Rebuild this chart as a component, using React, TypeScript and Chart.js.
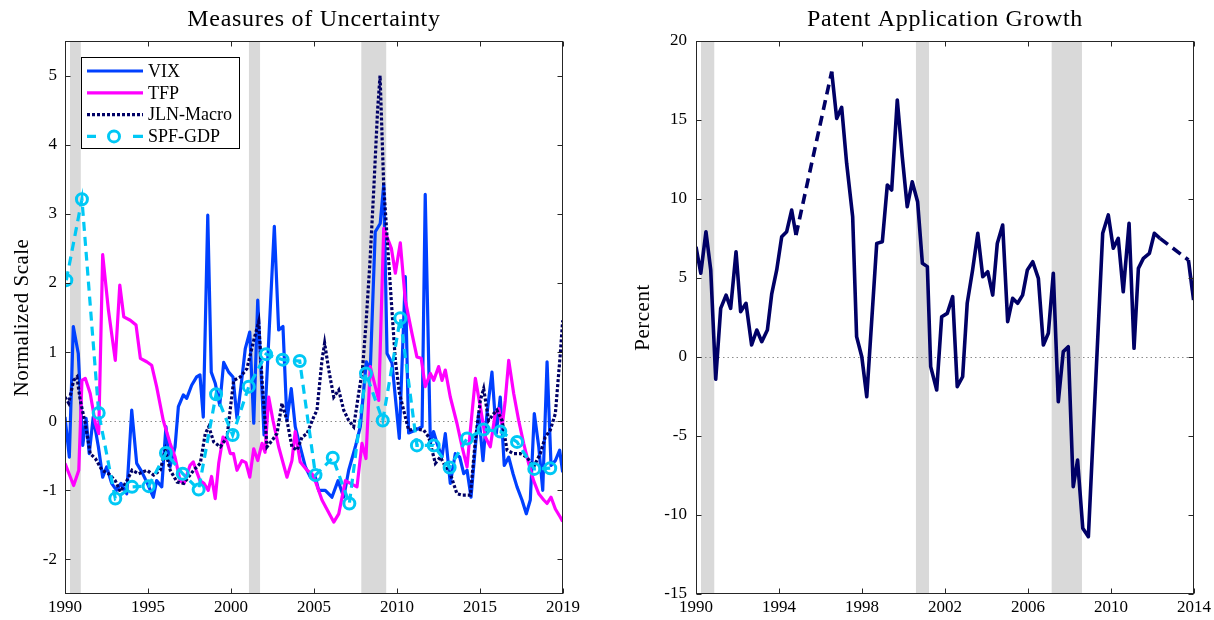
import React, { useEffect, useRef } from 'react';
import { Chart, registerables } from 'chart.js';

Chart.register(...registerables);

const SERIF = '"Liberation Serif", "Times New Roman", Times, serif';
const AXIS_COLOR = '#262626';

// ---------- Measures of Uncertainty (normalized scale) ----------
const vixDates = [
  1990.0, 1990.26, 1990.5, 1990.8, 1991.07, 1991.27, 1991.46, 1991.7, 1992.01, 1992.27,
  1992.51, 1992.81, 1993.11, 1993.37, 1993.72, 1994.02, 1994.32, 1994.62, 1994.96, 1995.32,
  1995.52, 1995.83, 1996.08, 1996.33, 1996.63, 1996.83, 1997.13, 1997.33, 1997.63, 1997.93,
  1998.13, 1998.33, 1998.6, 1998.81, 1999.05, 1999.32, 1999.56, 1999.86, 2000.12, 2000.36,
  2000.6, 2000.86, 2001.13, 2001.37, 2001.61, 2001.99, 2002.61, 2002.87, 2003.13, 2003.37,
  2003.63, 2003.87, 2004.17, 2004.48, 2004.78, 2005.08, 2005.28, 2005.68, 2006.08, 2006.45,
  2006.79, 2007.09, 2007.49, 2007.79, 2008.15, 2008.39, 2008.69, 2008.99, 2009.2, 2009.4,
  2009.7, 2010.14, 2010.5, 2010.7, 2011.1, 2011.51, 2011.7, 2012.01, 2012.2, 2012.41,
  2012.71, 2012.91, 2013.21, 2013.51, 2013.78, 2014.02, 2014.22, 2014.46, 2014.72, 2014.92,
  2015.18, 2015.42, 2015.72, 2015.98, 2016.22, 2016.46, 2016.73, 2016.99, 2017.23, 2017.53,
  2017.79, 2018.03, 2018.27, 2018.54, 2018.78, 2019.04, 2019.28, 2019.54, 2019.8, 2019.98,
];
const vixValues = [
  0.06, -0.52, 1.37, 0.98, -0.35, 0.04, -0.47, 0.06, -0.37, -0.81,
  -0.66, -0.9, -1.0, -0.9, -1.05, 0.16, -0.61, -0.73, -0.9, -1.1,
  -0.86, -0.95, -0.08, -0.66, -0.37, 0.21, 0.38, 0.33, 0.52, 0.64,
  0.67, 0.06, 2.98, 0.71, 0.55, 0.23, 0.85, 0.71, 0.64, 0.04,
  0.5, 1.05, 1.29, -0.03, 1.75, -0.2, 2.82, 1.32, 1.37, 0.01,
  0.47, -0.08, -0.37, -0.66, -0.81, -0.81, -1.0, -1.0, -1.1, -0.86,
  -1.1, -0.71, -0.37, -0.08, 0.86, 0.74, 2.74, 2.86, 3.42, 0.98,
  0.84, -0.25, 2.09, -0.17, -0.13, -0.08, 3.28, -0.32, -0.15, -0.32,
  -0.52, -0.18, -0.9, -0.47, -0.52, -0.76, -0.71, -1.1, -0.37, 0.11,
  -0.57, 0.11, 0.71, -0.18, 0.35, -0.64, -0.52, -0.76, -0.95, -1.14,
  -1.34, -1.14, 0.11, -0.37, -1.0, 0.86, -0.64, -0.57, -0.42, -0.74,
];

const tfpDates = [
  1990.0, 1990.52, 1990.83, 1991.02, 1991.22, 1991.52, 1991.83, 1992.03, 1992.27, 1992.62,
  1993.03, 1993.3, 1993.54, 1993.93, 1994.28, 1994.54, 1994.92, 1995.22, 1995.52, 1995.92,
  1996.33, 1996.63, 1996.93, 1997.17, 1997.53, 1997.73, 1997.93, 1998.13, 1998.37, 1998.63,
  1998.83, 1999.05, 1999.26, 1999.52, 1999.76, 1999.96, 2000.15, 2000.36, 2000.66, 2000.9,
  2001.13, 2001.37, 2001.61, 2001.87, 2002.05, 2002.27, 2002.53, 2002.87, 2003.37, 2003.67,
  2003.87, 2004.17, 2004.58, 2004.88, 2005.13, 2005.48, 2006.19, 2006.49, 2006.89, 2007.19,
  2007.59, 2007.89, 2008.13, 2008.39, 2008.9, 2009.2, 2009.66, 2009.9, 2010.2, 2010.5,
  2010.9, 2011.2, 2011.46, 2011.7, 2012.01, 2012.21, 2012.51, 2012.71, 2012.91, 2013.21,
  2013.61, 2013.92, 2014.22, 2014.42, 2014.72, 2015.02, 2015.32, 2015.62, 2015.92, 2016.13,
  2016.33, 2016.52, 2016.73, 2017.03, 2017.33, 2017.63, 2017.93, 2018.23, 2018.54, 2018.84,
  2019.04, 2019.28, 2019.54, 2019.84, 2019.98,
];
const tfpValues = [
  -0.61, -0.93, -0.71, 0.59, 0.62, 0.4, -0.03, -0.18, 2.41, 1.6,
  0.88, 1.97, 1.51, 1.46, 1.39, 0.91, 0.86, 0.81, 0.5, 0.01,
  -0.32, -0.52, -0.86, -0.9, -0.64, -0.59, -0.73, -0.86, -0.9, -1.0,
  -0.8, -1.12, -0.61, -0.23, -0.3, -0.47, -0.47, -0.71, -0.57, -0.6,
  -0.81, -0.4, -0.57, -0.32, -0.45, 0.35, 0.01, -0.37, -0.81, -0.57,
  -0.15, -0.59, -0.71, -0.76, -0.9, -1.14, -1.46, -1.34, -0.86, -0.9,
  -0.95, -0.32, -0.54, 0.79, 0.3, 2.79, 2.5, 2.14, 2.58, 1.75,
  1.27, 0.93, 0.91, 0.5, 0.69, 0.59, 0.79, 0.59, 0.74, 0.35,
  -0.03, -0.37, -0.66, -0.13, 0.62, 0.21, -0.23, -0.37, 0.11, 0.18,
  -0.08, 0.3, 0.88, 0.4, 0.01, -0.32, -0.61, -0.86, -1.05, -1.14,
  -1.19, -1.1, -1.27, -1.39, -1.45,
];

const jlnDates = [
  1990.0, 1990.22, 1990.52, 1990.72, 1990.92, 1991.22, 1991.52, 1991.83, 1992.23, 1992.63,
  1993.03, 1993.33, 1993.73, 1994.04, 1994.44, 1994.94, 1995.34, 1995.74, 1996.04, 1996.34,
  1996.75, 1997.15, 1997.75, 1998.15, 1998.45, 1998.66, 1998.96, 1999.36, 1999.76, 2000.16,
  2000.56, 2000.96, 2001.37, 2001.67, 2001.87, 2002.17, 2002.47, 2002.77, 2003.07, 2003.37,
  2003.67, 2003.98, 2004.28, 2004.58, 2004.98, 2005.18, 2005.48, 2005.64, 2005.89, 2006.19,
  2006.49, 2006.79, 2007.09, 2007.39, 2007.69, 2007.92, 2008.13, 2008.37, 2008.61, 2008.83,
  2008.98, 2009.2, 2009.42, 2009.64, 2009.9, 2010.15, 2010.4, 2010.7, 2011.1, 2011.61,
  2011.91, 2012.31, 2012.61, 2012.81, 2013.21, 2013.61, 2013.92, 2014.42, 2014.72, 2015.02,
  2015.22, 2015.52, 2015.83, 2016.02, 2016.33, 2016.63, 2017.03, 2017.43, 2017.83, 2018.23,
  2018.63, 2018.93, 2019.23, 2019.54, 2019.84, 2019.98,
];
const jlnValues = [
  0.35, 0.26, 0.59, 0.64, 0.3, -0.03, -0.47, -0.54, -0.71, -0.76,
  -0.86, -1.02, -0.86, -0.71, -0.76, -0.71, -0.78, -0.71, -0.42, -0.71,
  -0.88, -0.9, -0.71, -0.61, -0.18, -0.08, -0.3, -0.37, -0.23, 0.59,
  0.64, 0.76, 1.17, 1.44, 0.59, -0.37, -0.28, -0.18, 0.26, 0.01,
  -0.37, -0.42, -0.23, -0.18, 0.06, 0.16, 0.88, 1.13, 0.74, 0.35,
  0.45, 0.16, 0.01, -0.08, 0.4, 0.75, 1.4, 2.3, 3.4, 4.5,
  5.0, 3.4, 2.6, 1.8, 0.88, 0.4, 0.16, -0.13, -0.11, -0.13,
  -0.23, -0.61, -0.52, -0.61, -0.76, -1.05, -1.07, -1.07, -0.28, 0.3,
  0.47, 0.01, 0.11, 0.16, 0.01, -0.42, -0.47, -0.47, -0.52, -0.66,
  -0.47, -0.23, -0.13, 0.11, 0.98, 1.46,
];

const spfDates = [
  1990.08, 1991.02, 1992.03, 1993.03, 1994.04, 1995.04, 1996.08, 1997.09, 1998.05, 1999.1,
  2000.1, 2001.07, 2002.11, 2003.11, 2004.14, 2005.09, 2006.13, 2007.13, 2008.13, 2009.14,
  2010.2, 2011.2, 2012.21, 2013.17, 2014.22, 2015.22, 2016.22, 2017.23, 2018.27, 2019.23,
];
const spfValues = [
  2.04, 3.21, 0.12, -1.12, -0.95, -0.94, -0.46, -0.76, -0.99, 0.39,
  -0.2, 0.5, 0.97, 0.89, 0.87, -0.78, -0.53, -1.19, 0.69, 0.01,
  1.49, -0.35, -0.35, -0.67, -0.25, -0.12, -0.15, -0.3, -0.69, -0.68,
];

const uncertaintyRecessions = [
  [1990.3, 1990.95],
  [2001.08, 2001.75],
  [2007.85, 2009.35],
];
const uncertaintyXTicks = [1990, 1995, 2000, 2005, 2010, 2015, 2020];
const uncertaintyXTickLabels = ['1990', '1995', '2000', '2005', '2010', '2015', '2019'];
const uncertaintyYTicks = [-2, -1, 0, 1, 2, 3, 4, 5];

// ---------- Patent application growth (percent) ----------
// null marks quarters without an observation; those spans are bridged with a dashed line
const patentDates = [
  1990.0, 1990.23, 1990.48, 1990.71, 1990.95, 1991.19, 1991.45, 1991.67, 1991.93, 1992.15,
  1992.41, 1992.68, 1992.93, 1993.17, 1993.44, 1993.65, 1993.89, 1994.13, 1994.37, 1994.61,
  1994.82, 1995.7, 1996.54, 1996.78, 1997.02, 1997.26, 1997.55, 1997.74, 1997.99, 1998.23,
  1998.71, 1998.98, 1999.22, 1999.43, 1999.7, 1999.94, 2000.18, 2000.42, 2000.68, 2000.91,
  2001.15, 2001.31, 2001.6, 2001.84, 2002.11, 2002.37, 2002.59, 2002.85, 2003.07, 2003.33,
  2003.58, 2003.82, 2004.06, 2004.3, 2004.52, 2004.78, 2005.02, 2005.26, 2005.5, 2005.74,
  2005.97, 2006.23, 2006.5, 2006.74, 2006.98, 2007.22, 2007.46, 2007.7, 2007.94, 2008.18,
  2008.39, 2008.64, 2008.91, 2009.6, 2009.87, 2010.11, 2010.35, 2010.59, 2010.87, 2011.11,
  2011.32, 2011.56, 2011.85, 2012.09, 2012.36, 2013.0, 2013.73, 2013.98,
];
const patentValues = [
  6.98, 5.3, 7.93, 5.51, -1.41, 3.08, 3.92, 3.08, 6.66, 2.87,
  3.4, 0.76, 1.71, 0.97, 1.71, 4.0, 5.51, 7.61, 7.93, 9.3,
  7.72, null, 18.06, 15.1, 15.8, 12.26, 8.88, 1.29, 0.02, -2.51,
  7.19, 7.3, 10.89, 10.57, 16.27, 12.68, 9.51, 11.09, 9.83, 5.93,
  5.72, -0.61, -2.09, 2.55, 2.76, 3.82, -1.88, -1.25, 3.4, 5.51,
  7.83, 5.08, 5.4, 3.92, 7.19, 8.35, 2.24, 3.71, 3.4, 3.92,
  5.51, 6.03, 4.98, 0.76, 1.5, 5.3, -2.83, 0.34, 0.65, -8.21,
  -6.52, -10.84, -11.37, 7.83, 8.99, 6.88, 7.51, 4.13, 8.46, 0.55,
  5.61, 6.24, 6.56, 7.83, 7.51, null, 6.14, 3.61,
];

const patentRecessions = [
  [1990.24, 1990.88],
  [2000.6, 2001.23],
  [2007.14, 2008.6],
];
const patentXTicks = [1990, 1994, 1998, 2002, 2006, 2010, 2014];
const patentXTickLabels = ['1990', '1994', '1998', '2002', '2006', '2010', '2014'];
const patentYTicks = [-15, -10, -5, 0, 5, 10, 15, 20];

// ---------- helpers ----------
const toPoints = (xs: number[], ys: (number | null)[]) => xs.map((x, i) => ({ x, y: ys[i] }));

// Shading, zero line, boxed axes with inward ticks, titles and an in-plot legend
const matlabFrame = {
  id: 'matlabFrame',
  beforeDatasetsDraw(chart: any, _args: any, opts: any) {
    const { ctx, chartArea: a, scales } = chart;
    const xs = scales.x;
    const ys = scales.y;
    ctx.save();
    ctx.fillStyle = '#d9d9d9';
    for (const [s, e] of opts.shading) {
      const x0 = xs.getPixelForValue(s);
      const x1 = xs.getPixelForValue(e);
      ctx.fillRect(x0, a.top, x1 - x0, a.bottom - a.top);
    }
    const yz = Math.round(ys.getPixelForValue(0)) + 0.5;
    ctx.strokeStyle = '#8c8c8c';
    ctx.lineWidth = 1;
    ctx.setLineDash([1.5, 3]);
    ctx.beginPath();
    ctx.moveTo(a.left, yz);
    ctx.lineTo(a.right, yz);
    ctx.stroke();
    ctx.restore();
  },
  afterDraw(chart: any, _args: any, opts: any) {
    const { ctx, chartArea: a, scales } = chart;
    const xs = scales.x;
    const ys = scales.y;
    const L = Math.round(a.left) + 0.5;
    const R = Math.round(a.right) - 0.5;
    const T = Math.round(a.top) + 0.5;
    const B = Math.round(a.bottom) - 0.5;
    ctx.save();
    ctx.setLineDash([]);
    ctx.strokeStyle = AXIS_COLOR;
    ctx.lineWidth = 1;
    ctx.strokeRect(L, T, R - L, B - T);
    const tick = 5;
    ctx.beginPath();
    for (const t of xs.ticks) {
      const px = Math.round(xs.getPixelForValue(t.value)) + 0.5;
      ctx.moveTo(px, B);
      ctx.lineTo(px, B - tick);
      ctx.moveTo(px, T);
      ctx.lineTo(px, T + tick);
    }
    for (const t of ys.ticks) {
      const py = Math.round(ys.getPixelForValue(t.value)) + 0.5;
      ctx.moveTo(L, py);
      ctx.lineTo(L + tick, py);
      ctx.moveTo(R, py);
      ctx.lineTo(R - tick, py);
    }
    ctx.stroke();

    // title
    ctx.fillStyle = '#000';
    ctx.font = `24px ${SERIF}`;
    ctx.letterSpacing = '0.7px';
    ctx.textAlign = 'center';
    ctx.textBaseline = 'middle';
    ctx.fillText(opts.title, (a.left + a.right) / 2, 20);

    // y-axis label
    ctx.save();
    ctx.translate(a.left - opts.yLabelOffset, (a.top + a.bottom) / 2);
    ctx.rotate(-Math.PI / 2);
    ctx.font = `21px ${SERIF}`;
    ctx.letterSpacing = '0.5px';
    ctx.fillText(opts.yLabel, 0, 0);
    ctx.restore();
    ctx.letterSpacing = '0px';

    // legend box inside the plot
    if (opts.legend) {
      const lx = Math.round(a.left) + 16;
      const ly = Math.round(a.top) + 16;
      const lw = 158;
      const lh = 91;
      ctx.fillStyle = '#fff';
      ctx.fillRect(lx, ly, lw, lh);
      ctx.strokeStyle = '#000';
      ctx.lineWidth = 1;
      ctx.strokeRect(lx + 0.5, ly + 0.5, lw, lh);
      chart.data.datasets.forEach((ds: any, i: number) => {
        const cy = ly + 14 + i * 21.8;
        ctx.strokeStyle = ds.borderColor;
        ctx.lineWidth = ds.borderWidth;
        if (ds.pointRadius > 0) {
          ctx.setLineDash([]);
          ctx.beginPath();
          ctx.moveTo(lx + 6, cy);
          ctx.lineTo(lx + 15, cy);
          ctx.moveTo(lx + 52, cy);
          ctx.lineTo(lx + 62, cy);
          ctx.stroke();
          ctx.lineWidth = ds.pointBorderWidth;
          ctx.beginPath();
          ctx.arc(lx + 33, cy, ds.pointRadius, 0, Math.PI * 2);
          ctx.stroke();
        } else {
          ctx.setLineDash(ds.borderDash || []);
          ctx.beginPath();
          ctx.moveTo(lx + 6, cy);
          ctx.lineTo(lx + 62, cy);
          ctx.stroke();
        }
        ctx.setLineDash([]);
        ctx.fillStyle = '#000';
        ctx.font = `18px ${SERIF}`;
        ctx.textAlign = 'left';
        ctx.textBaseline = 'middle';
        ctx.fillText(ds.label, lx + 67, cy + 1);
      });
    }
    ctx.restore();
  },
};

const tickFont = { family: SERIF, size: 17 };

function axes(
  xMin: number, xMax: number, xTicks: number[], xLabels: string[],
  yMin: number, yMax: number, yTicks: number[], yPad: number,
) {
  return {
    x: {
      type: 'linear',
      min: xMin,
      max: xMax,
      grid: { display: false, drawTicks: false },
      border: { display: false },
      ticks: {
        font: tickFont,
        color: '#000',
        padding: 3,
        maxRotation: 0,
        autoSkip: false,
        callback: (_v: any, i: number) => xLabels[i],
      },
      afterBuildTicks: (s: any) => { s.ticks = xTicks.map((value) => ({ value })); },
      afterFit: (s: any) => { s.height = 26; },
    },
    y: {
      type: 'linear',
      min: yMin,
      max: yMax,
      grid: { display: false, drawTicks: false },
      border: { display: false },
      ticks: {
        font: tickFont,
        color: '#000',
        padding: yPad,
        autoSkip: false,
        callback: (v: any) => String(v),
      },
      afterBuildTicks: (s: any) => { s.ticks = yTicks.map((value) => ({ value })); },
      afterFit: (s: any) => { s.width = 50; },
    },
  };
}

function uncertaintyConfig(): any {
  return {
    type: 'line',
    data: {
      datasets: [
        {
          label: 'VIX',
          data: toPoints(vixDates, vixValues),
          borderColor: 'rgb(0,64,255)',
          borderWidth: 3.2,
          pointRadius: 0,
          tension: 0,
          borderJoinStyle: 'round',
          order: 3,
        },
        {
          label: 'TFP',
          data: toPoints(tfpDates, tfpValues),
          borderColor: 'rgb(255,0,255)',
          borderWidth: 3.2,
          pointRadius: 0,
          tension: 0,
          borderJoinStyle: 'round',
          order: 2,
        },
        {
          label: 'JLN-Macro',
          data: toPoints(jlnDates, jlnValues),
          borderColor: 'rgb(0,0,102)',
          borderWidth: 3.2,
          borderDash: [3, 2],
          pointRadius: 0,
          tension: 0,
          order: 1,
        },
        {
          label: 'SPF-GDP',
          data: toPoints(spfDates, spfValues),
          borderColor: 'rgb(0,200,245)',
          borderWidth: 3.2,
          borderDash: [9, 6],
          pointRadius: 5.5,
          pointBorderWidth: 3,
          pointBorderColor: 'rgb(0,200,245)',
          pointBackgroundColor: 'rgba(255,255,255,0)',
          pointStyle: 'circle',
          tension: 0,
          order: 0,
        },
      ],
    },
    options: {
      animation: false,
      responsive: false,
      events: [],
      layout: { padding: { left: 15, right: 44, top: 41, bottom: 0 } },
      plugins: {
        legend: { display: false },
        tooltip: { enabled: false },
        matlabFrame: {
          title: 'Measures of Uncertainty',
          yLabel: 'Normalized Scale',
          yLabelOffset: 43,
          shading: uncertaintyRecessions,
          legend: true,
        },
      },
      scales: axes(1990, 2020, uncertaintyXTicks, uncertaintyXTickLabels, -2.5, 5.5, uncertaintyYTicks, 8),
    },
    plugins: [matlabFrame],
  };
}

function patentConfig(): any {
  return {
    type: 'line',
    data: {
      datasets: [
        {
          label: 'Patent Application Growth',
          data: toPoints(patentDates, patentValues),
          borderColor: 'rgb(0,0,102)',
          borderWidth: 3.6,
          pointRadius: 0,
          tension: 0,
          borderJoinStyle: 'round',
          spanGaps: true,
          segment: {
            borderDash: (c: any) => (c.p0.skip || c.p1.skip ? [10, 6] : undefined),
          },
        },
      ],
    },
    options: {
      animation: false,
      responsive: false,
      events: [],
      layout: { padding: { left: 39, right: 20, top: 41, bottom: 0 } },
      plugins: {
        legend: { display: false },
        tooltip: { enabled: false },
        matlabFrame: {
          title: 'Patent Application Growth',
          yLabel: 'Percent',
          yLabelOffset: 53,
          shading: patentRecessions,
          legend: false,
        },
      },
      scales: axes(1990, 2014, patentXTicks, patentXTickLabels, -15, 20, patentYTicks, 9),
    },
    plugins: [matlabFrame],
  };
}

function ChartPanel({ make, left }: { make: () => any; left: number }) {
  const ref = useRef<HTMLCanvasElement>(null);
  useEffect(() => {
    const chart = new Chart(ref.current as HTMLCanvasElement, make());
    return () => chart.destroy();
  }, [make]);
  return (
    <canvas
      ref={ref}
      width={607}
      height={620}
      style={{ position: 'absolute', left, top: 0, width: 607, height: 620 }}
    />
  );
}

export default function App() {
  return (
    <div
      style={{
        position: 'fixed',
        left: 0,
        top: 0,
        width: 1214,
        height: 620,
        background: '#fff',
        overflow: 'hidden',
      }}
    >
      <ChartPanel make={uncertaintyConfig} left={0} />
      <ChartPanel make={patentConfig} left={607} />
    </div>
  );
}
